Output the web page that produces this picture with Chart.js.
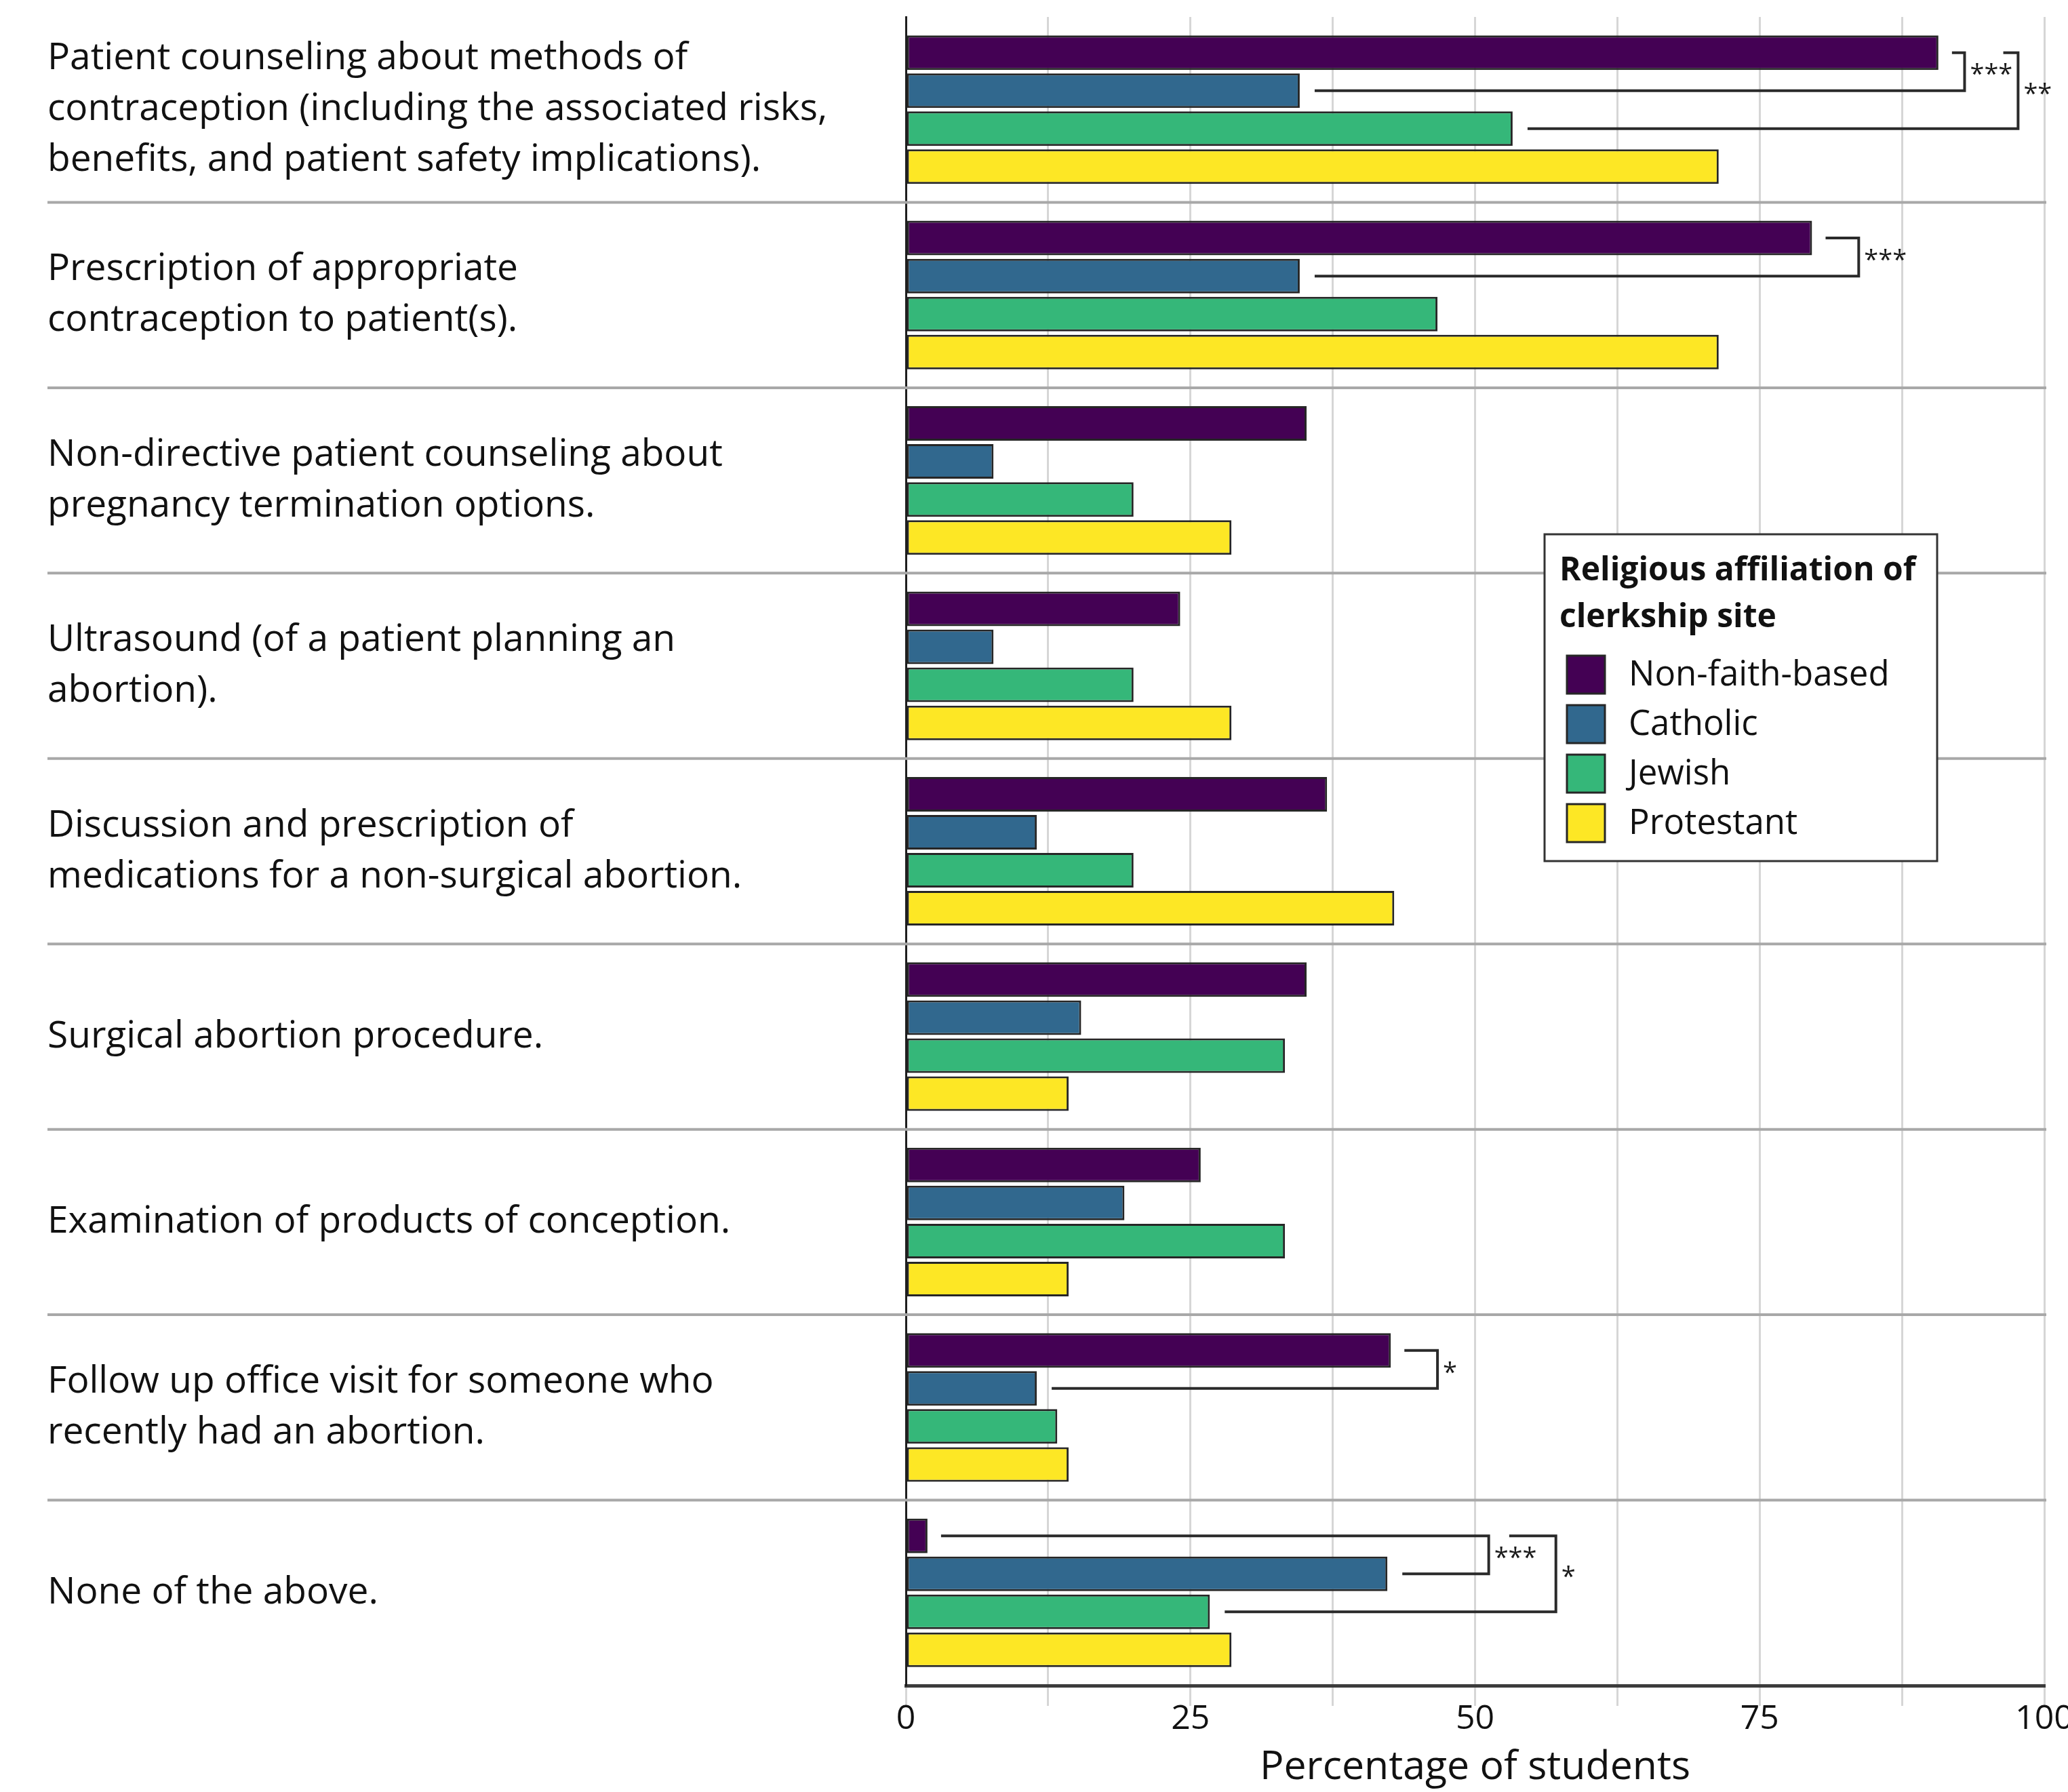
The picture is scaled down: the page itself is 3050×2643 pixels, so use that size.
<!DOCTYPE html>
<html>
<head>
<meta charset="utf-8">
<script src="https://cdn.jsdelivr.net/npm/chart.js@4.4.1/dist/chart.umd.min.js"></script>
<style>
  html, body { margin: 0; padding: 0; background: #fff; overflow: hidden; }
  canvas { display: block; }
</style>
</head>
<body>
<canvas id="procChart" width="3050" height="2643"></canvas>
<script>
// categories (y axis), one array per clerkship-site group
const categories = [
  ["Patient counseling about methods of", "contraception (including the associated risks,", "benefits, and patient safety implications)."],
  ["Prescription of appropriate", "contraception to patient(s)."],
  ["Non-directive patient counseling about", "pregnancy termination options."],
  ["Ultrasound (of a patient planning an", "abortion)."],
  ["Discussion and prescription of", "medications for a non-surgical abortion."],
  "Surgical abortion procedure.",
  "Examination of products of conception.",
  ["Follow up office visit for someone who", "recently had an abortion."],
  "None of the above."
];
const groups = ["Non-faith-based", "Catholic", "Jewish", "Protestant"];
const nonFaith   = [90.7, 79.6, 35.2, 24.1, 37.0, 35.2, 25.9, 42.6, 1.9];
const catholic   = [34.6, 34.6, 7.7, 7.7, 11.5, 15.4, 19.2, 11.5, 42.3];
const jewish     = [53.3, 46.7, 20.0, 20.0, 20.0, 33.3, 33.3, 13.3, 26.7];
const protestant = [71.4, 71.4, 28.6, 28.6, 42.9, 14.3, 14.3, 14.3, 28.6];
const groupColors = ["#440154", "#31688e", "#35b779", "#fde725"];
const xTicks = [0, 25, 50, 75, 100];
const legendTitle = ["Religious affiliation of", "clerkship site"];

// significance brackets: category, the two groups compared, where the bracket sits (in %)
const sigBrackets = [
  { cat: 0, from: 0, to: 1, at: 93.0, label: "***" },
  { cat: 0, from: 0, to: 2, at: 97.7, armFrom: 96.4, label: "**" },
  { cat: 1, from: 0, to: 1, at: 83.7, label: "***" },
  { cat: 7, from: 0, to: 1, at: 46.7, label: "*" },
  { cat: 8, from: 0, to: 1, at: 51.2, label: "***" },
  { cat: 8, from: 0, to: 2, at: 57.1, armFrom: 53.0, label: "*" }
];

const series = [nonFaith, catholic, jewish, protestant];
const FONT = "Open Sans";

const separators = {
  id: "separators",
  beforeDatasetsDraw(chart) {
    const { ctx, chartArea, scales: { y } } = chart;
    ctx.save();
    ctx.strokeStyle = "#a8a8a8";
    ctx.lineWidth = 4;
    for (let i = 1; i < categories.length; i++) {
      const yy = (y.getPixelForValue(i - 1) + y.getPixelForValue(i)) / 2;
      ctx.beginPath();
      ctx.moveTo(70, yy);
      ctx.lineTo(chartArea.right + 3, yy);
      ctx.stroke();
    }
    ctx.restore();
  }
};

const brackets = {
  id: "brackets",
  afterDatasetsDraw(chart) {
    const { ctx, scales: { x } } = chart;
    ctx.save();
    ctx.strokeStyle = "#2a2a2a";
    ctx.lineWidth = 4;
    ctx.fillStyle = "#1a1a1a";
    ctx.font = "38px '" + FONT + "'";
    ctx.textBaseline = "middle";
    ctx.textAlign = "left";
    sigBrackets.forEach(b => {
      const top = chart.getDatasetMeta(b.from).data[b.cat];
      const low = chart.getDatasetMeta(b.to).data[b.cat];
      const xv = x.getPixelForValue(b.at);
      const x1 = b.armFrom != null ? x.getPixelForValue(b.armFrom) : top.x + 20;
      const x2 = low.x + 22;
      ctx.beginPath();
      ctx.moveTo(x1, top.y);
      ctx.lineTo(xv, top.y);
      ctx.lineTo(xv, low.y);
      ctx.lineTo(x2, low.y);
      ctx.stroke();
      ctx.fillText(b.label, xv + 8, (top.y + low.y) / 2 + 6);
    });
    ctx.restore();
  }
};

const legendBox = {
  id: "legendBox",
  afterDraw(chart) {
    const ctx = chart.ctx;
    const bx = 2278, by = 788, bw = 579, bh = 482;
    ctx.save();
    ctx.fillStyle = "#fff";
    ctx.fillRect(bx, by, bw, bh);
    ctx.strokeStyle = "#333";
    ctx.lineWidth = 3;
    ctx.strokeRect(bx, by, bw, bh);

    ctx.fillStyle = "#111";
    ctx.textAlign = "left";
    ctx.textBaseline = "alphabetic";
    ctx.font = "bold 48px '" + FONT + "'";
    legendTitle.forEach((t, i) => ctx.fillText(t, bx + 22, by + 68 + i * 69, 535));

    ctx.font = "51px '" + FONT + "'";
    ctx.textBaseline = "middle";
    chart.data.datasets.forEach((ds, i) => {
      const sy = by + 179 + i * 73;
      ctx.fillStyle = ds.backgroundColor;
      ctx.fillRect(bx + 33, sy, 56, 56);
      ctx.strokeStyle = "#262626";
      ctx.lineWidth = 3;
      ctx.strokeRect(bx + 33, sy, 56, 56);
      ctx.fillStyle = "#111";
      ctx.fillText(ds.label, bx + 124, sy + 29);
    });
    ctx.restore();
  }
};

function draw() {
  const ctx = document.getElementById("procChart").getContext("2d");
  new Chart(ctx, {
    type: "bar",
    data: {
      labels: categories,
      datasets: groups.map((g, i) => ({
        label: g,
        data: series[i],
        backgroundColor: groupColors[i],
        borderColor: "#262626",
        borderWidth: 3,
        borderSkipped: false,
        categoryPercentage: 0.82,
        barPercentage: 0.91
      }))
    },
    options: {
      indexAxis: "y",
      responsive: false,
      animation: false,
      devicePixelRatio: 1,
      layout: { padding: { left: 70, top: 25, right: 35, bottom: 0 } },
      plugins: { legend: { display: false }, tooltip: { enabled: false } },
      scales: {
        x: {
          min: 0, max: 100,
          ticks: {
            stepSize: 12.5,
            autoSkip: false,
            maxRotation: 0,
            padding: 0,
            color: "#111",
            font: { family: FONT, size: 50, lineHeight: 0.8 },
            callback: v => xTicks.includes(v) ? v : ""
          },
          grid: { color: "#d6d6d6", lineWidth: 3, tickLength: 30 },
          border: { color: "#3c3c3c", width: 5 },
          title: {
            display: true, text: "Percentage of students", color: "#111",
            font: { family: FONT, size: 59 }, padding: { top: 0, bottom: 0 }
          },
          afterFit(s) { s.height = 157; s.paddingLeft = 0; s.paddingRight = 0; }
        },
        y: {
          ticks: {
            crossAlign: "far",
            autoSkip: false,
            color: "#111",
            font: { family: FONT, size: 55, lineHeight: 1.364 }
          },
          grid: { display: false },
          border: { color: "#1e1e1e", width: 3 },
          afterFit(s) { s.width = 1266; s.paddingTop = 0; s.paddingBottom = 0; }
        }
      }
    },
    plugins: [separators, brackets, legendBox]
  });
}

document.fonts.load("55px '" + FONT + "'").then(draw, draw);
</script>
</body>
</html>
